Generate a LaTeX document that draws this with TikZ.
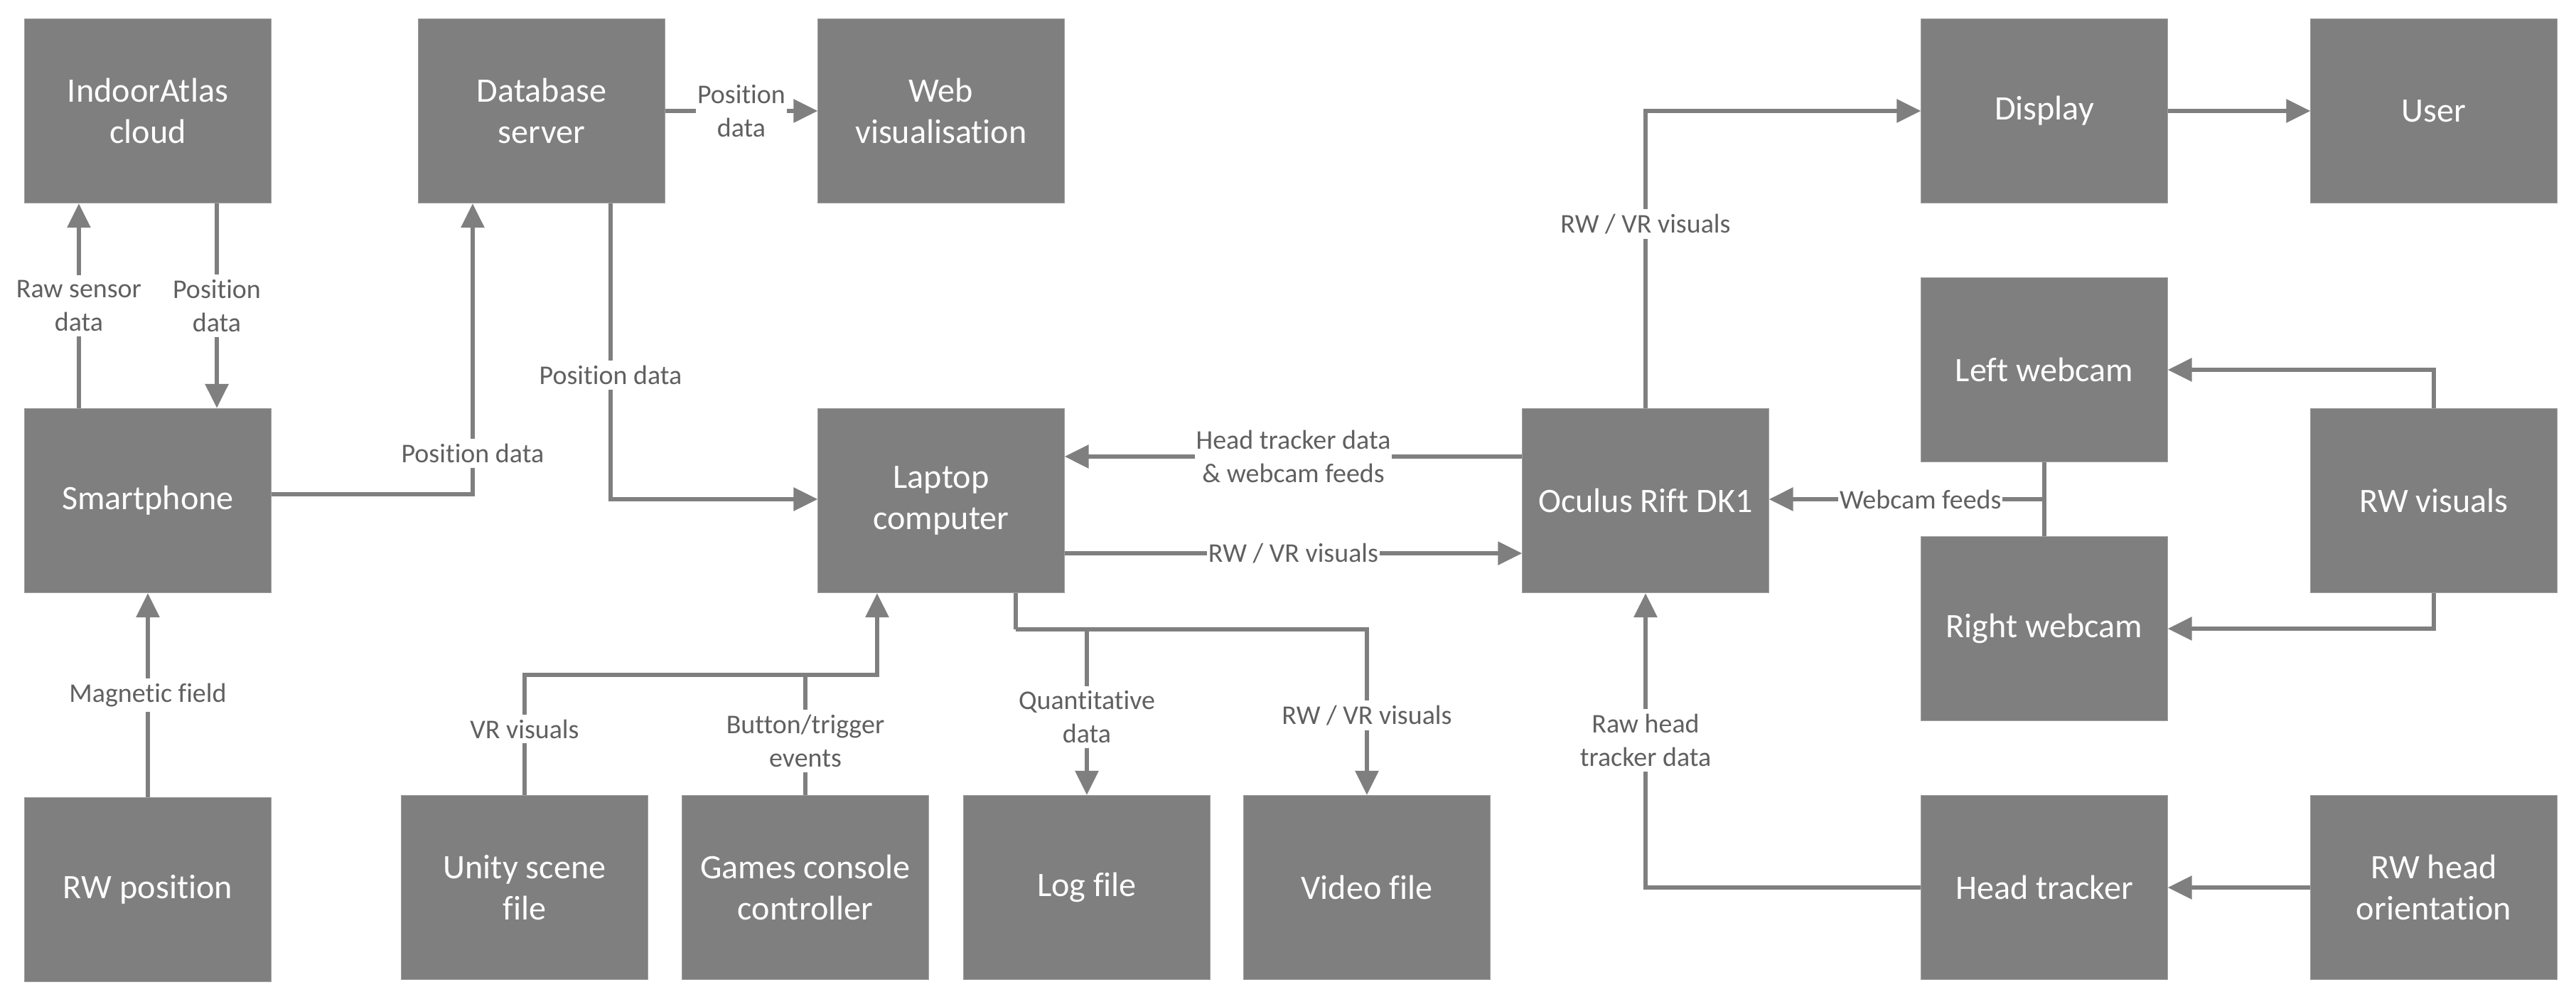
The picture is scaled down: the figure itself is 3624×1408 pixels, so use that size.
\documentclass[tikz,border=0pt]{standalone}
\usepackage{fontspec}
\setmainfont{Carlito}[Ligatures={NoCommon}]
\usetikzlibrary{arrows.meta,calc}
\definecolor{boxgray}{RGB}{127,127,127}
\definecolor{linegray}{RGB}{127,127,127}
\definecolor{labelgray}{RGB}{96,96,96}
\begin{document}
\begin{tikzpicture}[x=0.01cm, y=-0.01cm,
    box/.style={fill=boxgray, draw=boxgray!75!white, line width=0.3pt, text=white,
        minimum width=3.46cm, minimum height=2.59cm, inner sep=0pt, align=center,
        font=\fontsize{13.7}{16.5}\selectfont},
    link/.style={draw=linegray, line width=1.7pt},
    flow/.style={link, -{Triangle[length=3.4mm, width=3.2mm]}},
    lbl/.style={fill=white, text=labelgray, align=center, inner xsep=0.5pt, inner ysep=2pt,
        font=\fontsize{10.8}{13.4}\selectfont}]
    \useasboundingbox (0,0) rectangle (3624,1408);

    % boxes
    \node[box] (cloud)    at (208,156)  {IndoorAtlas\\cloud};
    \node[box] (db)       at (762,156)  {Database\\server};
    \node[box] (web)      at (1324,156) {Web\\visualisation};
    \node[box] (display)  at (2876,156) {Display};
    \node[box] (user)     at (3424,156) {User};
    \node[box] (leftcam)  at (2876,520) {Left webcam};
    \node[box] (phone)    at (208,704)  {Smartphone};
    \node[box] (laptop)   at (1324,704) {Laptop\\computer};
    \node[box] (oculus)   at (2315,704) {Oculus Rift DK1};
    \node[box] (rwvis)    at (3424,704) {RW visuals};
    \node[box] (rightcam) at (2876,884) {Right webcam};
    \node[box] (rwpos)    at (208,1251) {RW position};
    \node[box] (unity)    at (738,1248) {Unity scene\\file};
    \node[box] (games)    at (1133,1248) {Games console\\controller};
    \node[box] (log)      at (1529,1248) {Log file};
    \node[box] (video)    at (1923,1248) {Video file};
    \node[box] (tracker)  at (2876,1248) {Head tracker};
    \node[box] (orient)   at (3424,1248) {RW head\\orientation};

    % positioning
    \draw[flow] ([xshift=-0.97cm]phone.north) -- node[lbl]{Raw sensor\\data} ([xshift=-0.97cm]cloud.south);
    \draw[flow] ([xshift=0.97cm]cloud.south) -- node[lbl]{Position\\data} ([xshift=0.97cm]phone.north);
    \draw[flow] (rwpos) -- node[lbl]{Magnetic field} (phone);
    \draw[flow] ([yshift=0.09cm]phone.east) -| node[lbl, pos=0.57]{Position data} ([xshift=-0.97cm]db.south);
    \draw[flow] (db) -- node[lbl]{Position\\data} (web);
    \draw[flow] ([xshift=0.97cm]db.south) |- node[lbl, pos=0.29]{Position data} ([yshift=0.02cm]laptop.west);

    % laptop and headset
    \draw[flow] ([yshift=-0.74cm]laptop.east) -- node[lbl]{RW / VR visuals} ([yshift=-0.74cm]oculus.west);
    \draw[flow] ([yshift=0.62cm]oculus.west) -- node[lbl]{Head tracker data\\\& webcam feeds} ([yshift=0.62cm]laptop.east);
    \draw[flow] (oculus.north) |- node[lbl, pos=0.31]{RW / VR visuals} (display.west);
    \draw[flow] (display) -- (user);

    % webcams
    \draw[flow] (rwvis.north) |- (leftcam.east);
    \draw[flow] (rwvis.south) |- (rightcam.east);
    \draw[link] (leftcam.south) -- (rightcam.north);
    \coordinate (camjoin) at ($(leftcam.south)!0.5!(rightcam.north)$);
    \draw[flow] (camjoin) -- node[lbl, pos=0.45, inner ysep=0pt]{Webcam feeds} (camjoin -| oculus.east);

    % head tracking
    \draw[flow] (orient) -- (tracker);
    \draw[flow] (tracker.west) -| node[lbl, pos=0.75]{Raw head\\tracker data} (oculus.south);

    % inputs to laptop
    \coordinate (inbus) at (unity.north |- 0,949);
    \draw[flow] (unity.north) -- node[lbl, pos=0.55]{VR visuals} (inbus) -| ([xshift=-0.9cm]laptop.south);
    \draw[link] (games.north) -- node[lbl, pos=0.45]{Button/trigger\\events} (games.north |- inbus);

    % outputs from laptop
    \coordinate (outbus) at ([xshift=1.05cm]laptop.south |- 0,885);
    \draw[link] ([xshift=1.05cm]laptop.south) -- (outbus);
    \draw[flow] (outbus) -| node[lbl, pos=0.76]{RW / VR visuals} (video.north);
    \draw[flow] (outbus -| log.north) -- node[lbl, pos=0.53]{Quantitative\\data} (log.north);
\end{tikzpicture}
\end{document}
